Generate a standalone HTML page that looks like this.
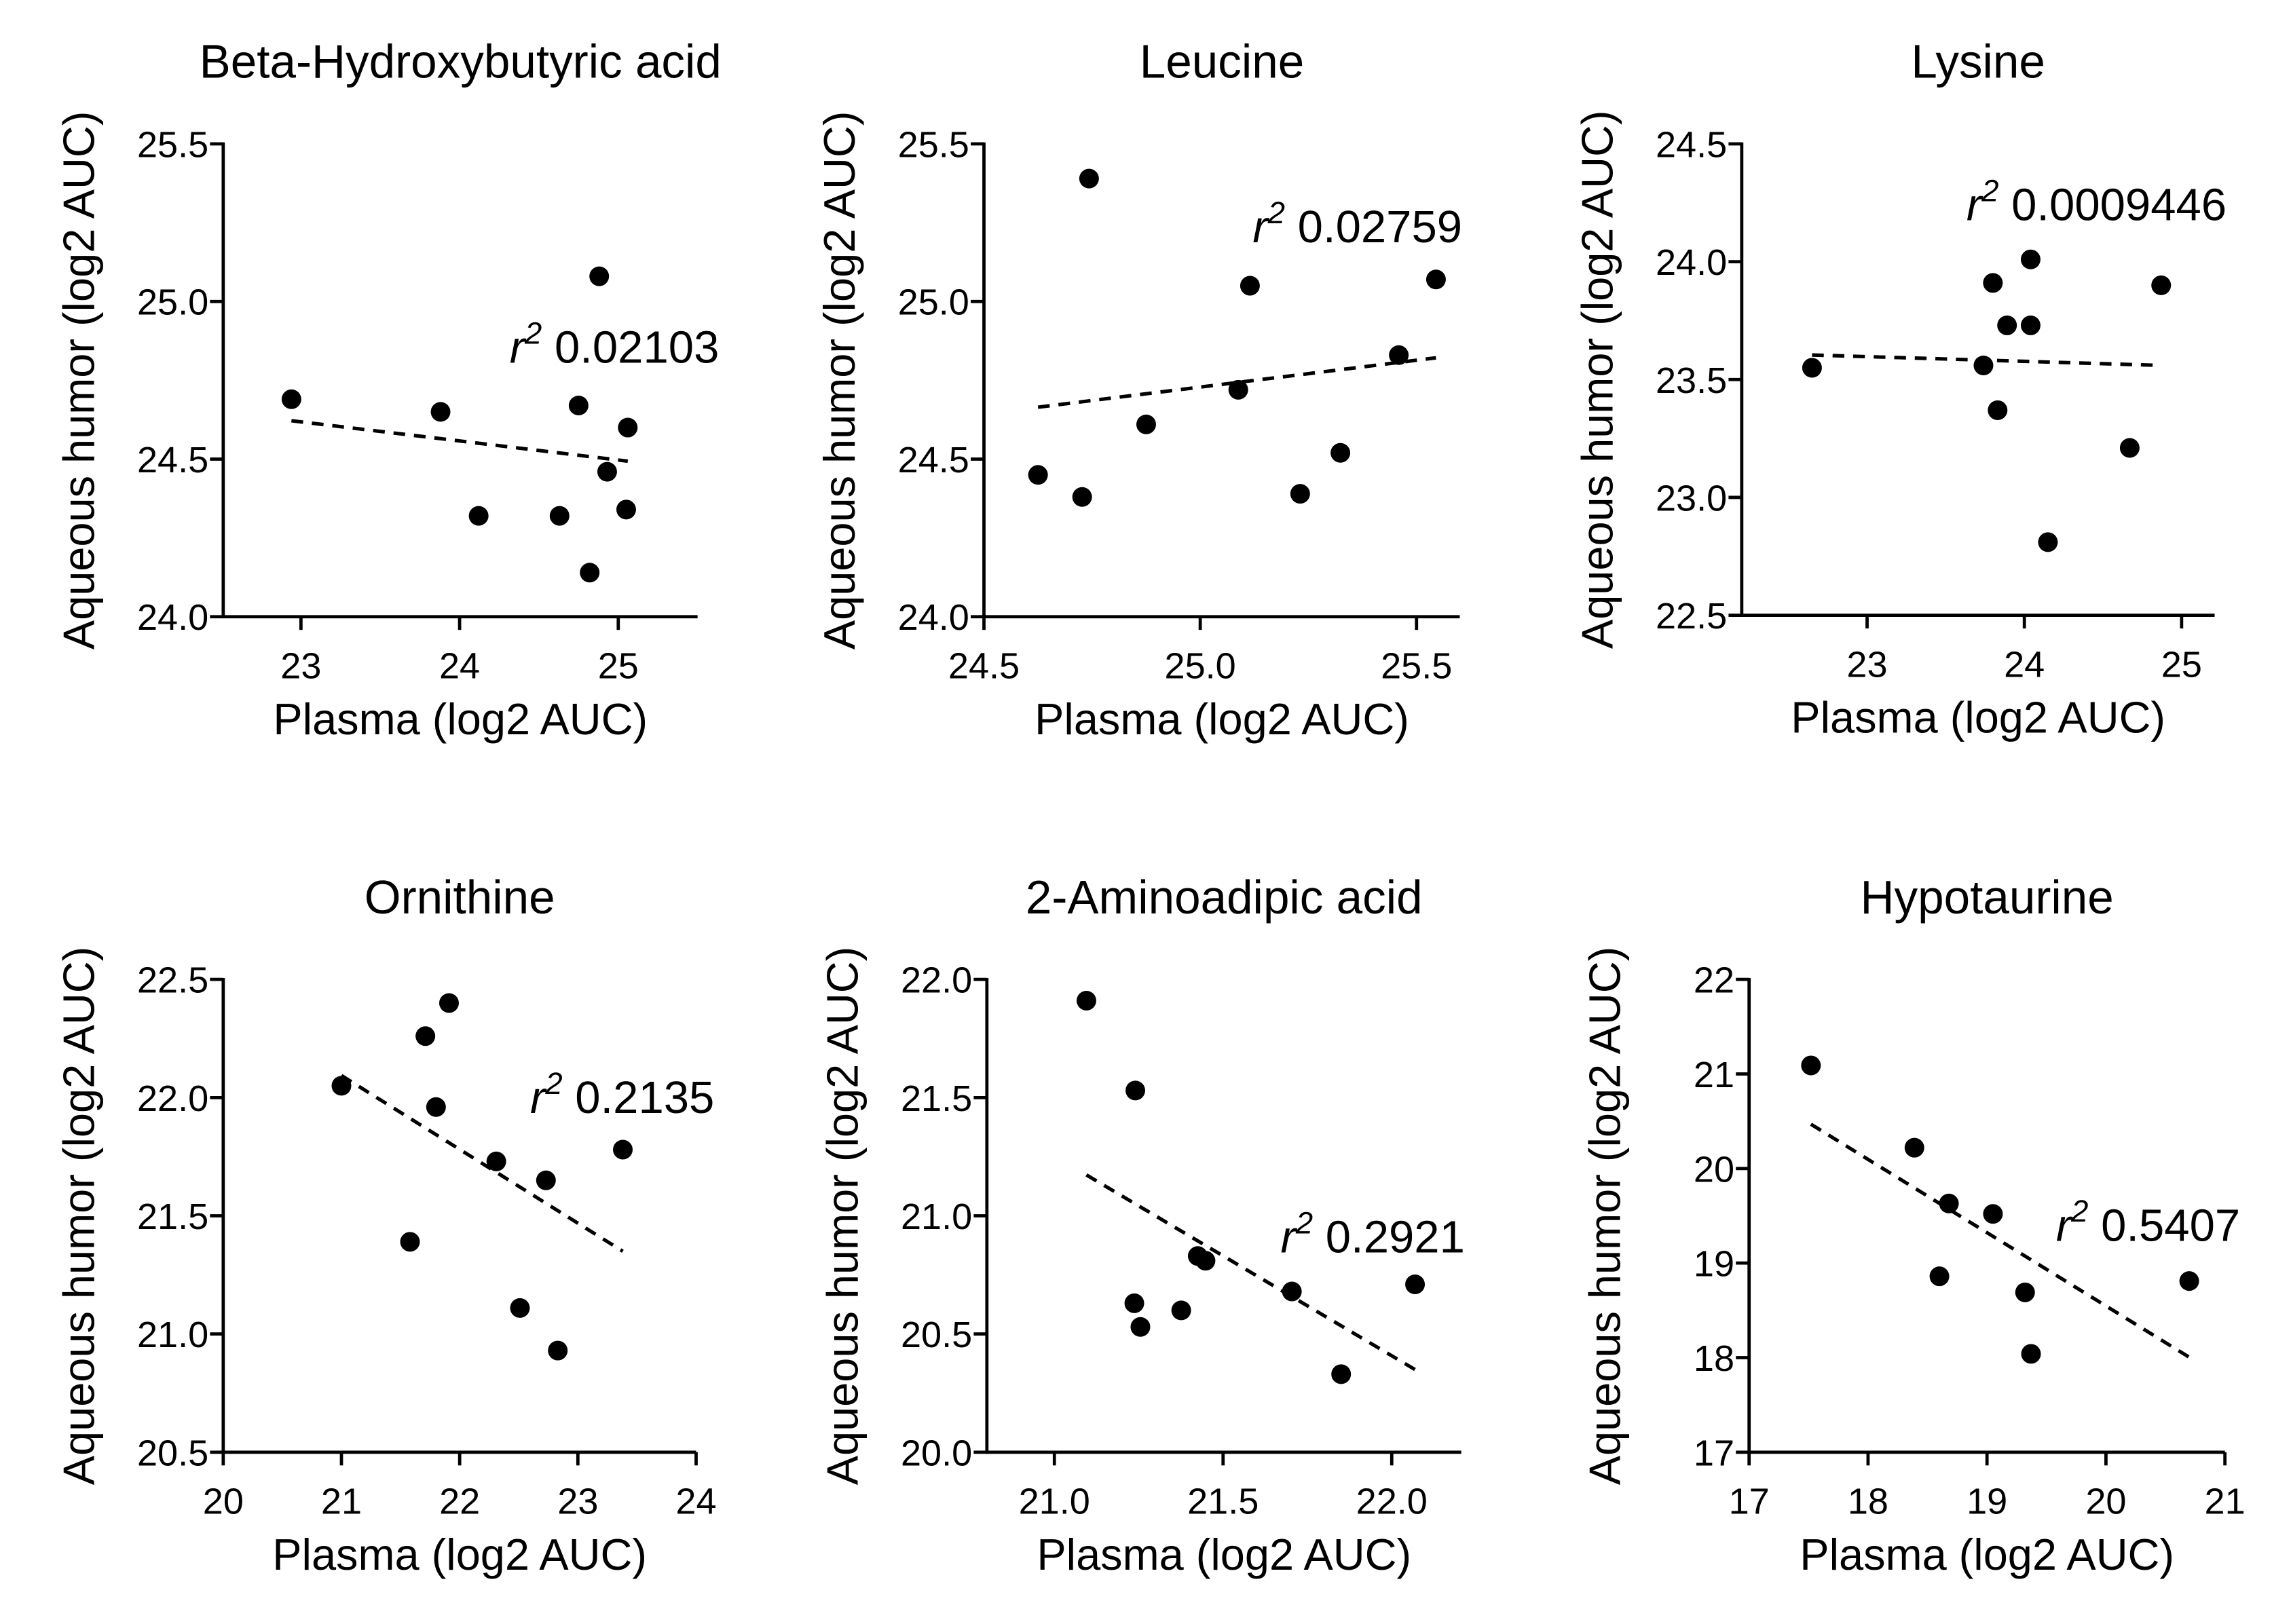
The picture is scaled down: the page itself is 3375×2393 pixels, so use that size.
<!DOCTYPE html>
<html><head><meta charset="utf-8"><style>
html,body{margin:0;padding:0;background:#fff}
svg{display:block}
text{font-family:"Liberation Sans",Arial,sans-serif;fill:#000}
</style></head><body>
<svg id="chart" width="3375" height="2393" viewBox="0 0 1560 1106" preserveAspectRatio="none" xmlns="http://www.w3.org/2000/svg"></svg>
<script>
const titles = ["Beta-Hydroxybutyric acid","Leucine","Lysine","Ornithine","2-Aminoadipic acid","Hypotaurine"];
const r2Labels = ["0.02103","0.02759","0.0009446","0.2135","0.2921","0.5407"];
const xs1 = [22.94,23.88,24.12,24.63,24.75,24.82,24.88,24.93,25.05,25.06];
const ys1 = [24.69,24.65,24.32,24.32,24.67,24.14,25.08,24.46,24.34,24.60];
const xs2 = [24.625,24.727,24.743,24.875,25.088,25.115,25.231,25.324,25.459,25.545];
const ys2 = [24.45,24.38,25.39,24.61,24.72,25.05,24.39,24.52,24.83,25.07];
const xs3 = [22.65,23.74,23.80,23.83,23.89,24.04,24.04,24.15,24.67,24.87];
const ys3 = [23.55,23.56,23.91,23.37,23.73,24.01,23.73,22.81,23.21,23.90];
const xs4 = [21.00,21.58,21.71,21.80,21.91,22.31,22.51,22.73,22.83,23.38];
const ys4 = [22.05,21.39,22.26,21.96,22.40,21.73,21.11,21.65,20.93,21.78];
const xs5 = [21.095,21.24,21.237,21.255,21.376,21.425,21.448,21.704,21.85,22.069];
const ys5 = [21.91,21.53,20.63,20.53,20.60,20.83,20.81,20.68,20.33,20.71];
const xs6 = [17.52,18.39,18.60,18.68,19.05,19.32,19.37,20.70];
const ys6 = [21.09,20.22,18.86,19.63,19.52,18.69,18.04,18.81];
const xTicks = [[23,24,25],[24.5,25.0,25.5],[23,24,25],[20,21,22,23,24],[21.0,21.5,22.0],[17,18,19,20,21]];
const yTicks = [[24.0,24.5,25.0,25.5],[24.0,24.5,25.0,25.5],[22.5,23.0,23.5,24.0,24.5],[20.5,21.0,21.5,22.0,22.5],[20.0,20.5,21.0,21.5,22.0],[17,18,19,20,21,22]];
const xDomains = [[22.51,25.50],[24.5,25.60],[22.203,25.21],[20,24],[20.80,22.206],[17,21]];
const yDomains = [[24.0,25.5],[24.0,25.5],[22.5,24.5],[20.5,22.5],[20.0,22.0],[17,22]];
const yDecimals = [1,1,1,1,1,0];
const xDecimals = [0,1,0,0,1,0];

const data = [[xs1,ys1],[xs2,ys2],[xs3,ys3],[xs4,ys4],[xs5,ys5],[xs6,ys6]];
const layout = [
 {l:152,r:475,t:98,b:420,lab:[347,237]},
 {l:670,r:994,t:98,b:420,lab:[853,155]},
 {l:1186,r:1508,t:98,b:419,lab:[1339,140]},
 {l:152,r:474,t:667,b:989,lab:[361,748]},
 {l:672,r:995,t:667,b:989,lab:[872,843]},
 {l:1191,r:1515,t:667,b:989,lab:[1400,835]}
];
const svg = document.getElementById('chart');
const NS = 'http://www.w3.org/2000/svg';
function mk(tag, attrs, parent){const e=document.createElementNS(NS,tag);for(const k in attrs)e.setAttribute(k,attrs[k]);parent.appendChild(e);return e;}

for(let p=0;p<6;p++){
  const L=layout[p], xd=xDomains[p], yd=yDomains[p];
  const sx=v=>L.l+(v-xd[0])/(xd[1]-xd[0])*(L.r-L.l);
  const sy=v=>L.b-(v-yd[0])/(yd[1]-yd[0])*(L.b-L.t);
  const g=mk('g',{},svg);
  
  
  const cx=(L.l+L.r)/2, cy=(L.t+L.b)/2;
  const t=mk('text',{x:cx,y:L.t-45,'text-anchor':'middle','font-size':32},g); t.textContent=titles[p];
  
  
  const ya=mk('line',{x1:L.l,y1:L.t-1,x2:L.l,y2:L.b,stroke:'#000','stroke-width':2.2},g);
  
  
  const xa=mk('line',{x1:L.l-1,y1:L.b,x2:L.r,y2:L.b,stroke:'#000','stroke-width':2.2},g);
  
  
  yTicks[p].forEach(v=>{
    const y=sy(v);
    mk('line',{x1:L.l-9,y1:y,x2:L.l,y2:y,stroke:'#000','stroke-width':2.2},g);
    const tl=mk('text',{x:L.l-10,y:y+9,'text-anchor':'end','font-size':25},g);
    tl.textContent=v.toFixed(yDecimals[p]);
    
    
  });
  xTicks[p].forEach(v=>{
    const x=sx(v);
    mk('line',{x1:x,y1:L.b,x2:x,y2:L.b+9,stroke:'#000','stroke-width':2.2},g);
    const tl=mk('text',{x:x,y:L.b+42,'text-anchor':'middle','font-size':25},g);
    tl.textContent=v.toFixed(xDecimals[p]);
    
    
  });
  const xt=mk('text',{x:cx,y:L.b+80,'text-anchor':'middle','font-size':30},g); xt.textContent='Plasma (log2 AUC)';
  
  
  const ax=L.l-98;
  const yt=mk('text',{x:ax,y:cy+10,'text-anchor':'middle','font-size':30,transform:'rotate(-90 '+ax+' '+cy+')'},g);
  yt.textContent='Aqueous humor (log2 AUC)';
  
  
  const X=data[p][0], Y=data[p][1], n=X.length;
  const mx=X.reduce((a,b)=>a+b,0)/n, my=Y.reduce((a,b)=>a+b,0)/n;
  let sxy=0,sxx=0; for(let i=0;i<n;i++){sxy+=(X[i]-mx)*(Y[i]-my);sxx+=(X[i]-mx)**2;}
  const b=sxy/sxx, a=my-b*mx, x0=Math.min(...X), x1=Math.max(...X);
  const fl=mk('line',{x1:sx(x0),y1:sy(a+b*x0),x2:sx(x1),y2:sy(a+b*x1),stroke:'#000','stroke-width':2.4,'stroke-dasharray':'8,6'},g);
  
  
  for(let i=0;i<n;i++){
    const c=mk('circle',{cx:sx(X[i]),cy:sy(Y[i]),r:6.7,fill:'#000'},g);
    
    
  }
  const lt=mk('text',{x:L.lab[0],y:L.lab[1]+10,'font-size':31},g);
  
  
  const s1=mk('tspan',{'font-style':'italic'},lt); s1.textContent='r';
  const s2=mk('tspan',{'font-size':21,dy:-13,'font-style':'italic'},lt); s2.textContent='2';
  const s3=mk('tspan',{dy:13},lt); s3.textContent=' '+r2Labels[p];
}
</script>
</body></html>
